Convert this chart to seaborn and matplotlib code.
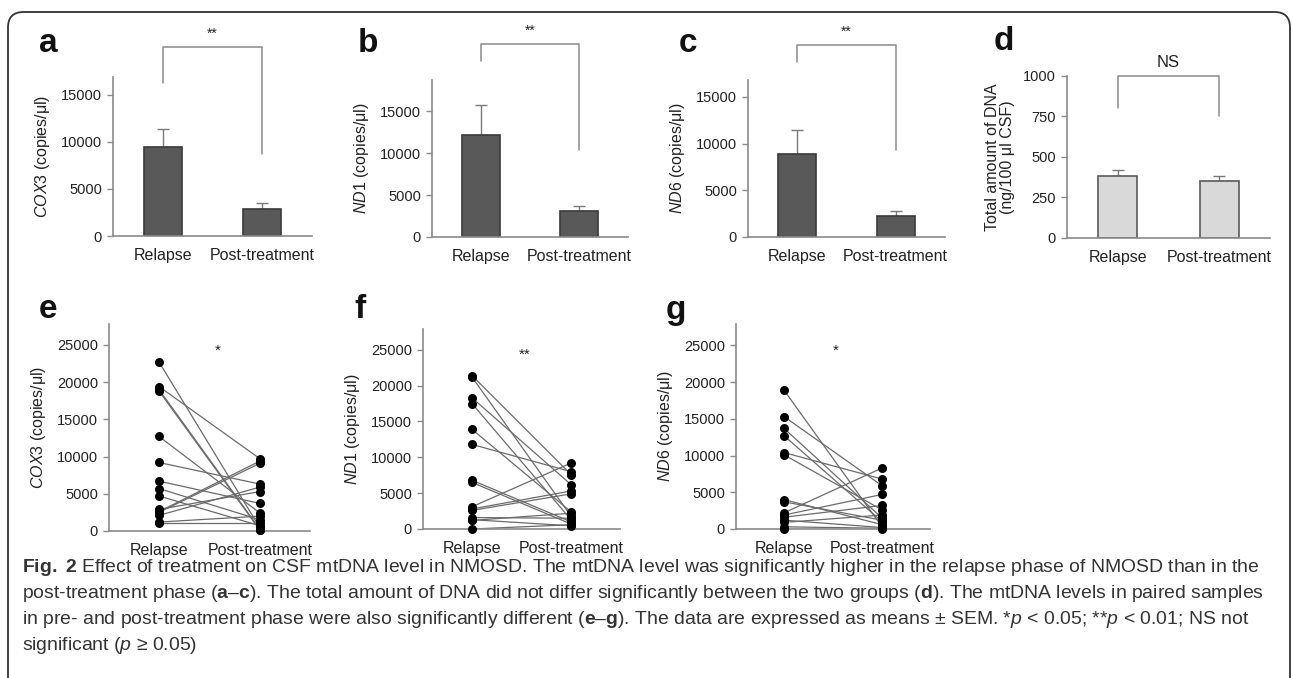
import matplotlib
matplotlib.use("Agg")
import numpy as np
import pandas as pd
import matplotlib.pyplot as plt
import seaborn as sns
from matplotlib import font_manager
from matplotlib.patches import FancyBboxPatch

# ---- data ----
groups = ["Relapse", "Post-treatment"]

cox3_mean = [9500, 2900]
cox3_sem = [1900, 600]
nd1_mean = [12200, 3100]
nd1_sem = [3500, 600]
nd6_mean = [8900, 2200]
nd6_sem = [2600, 600]
dna_mean = [380, 350]
dna_sem = [40, 30]

cox3_rel = [22700, 19400, 19000, 18800, 12700, 9200, 6700, 5700, 4700, 2900, 2600, 2500, 2100, 1200, 1100]
cox3_post = [400, 9700, 200, 100, 2400, 6300, 3700, 1500, 700, 5300, 9400, 9100, 5900, 2000, 1100]
nd1_rel = [21400, 21200, 18300, 17500, 13900, 11800, 6800, 6500, 3100, 2800, 2600, 1600, 1300, 1200, 0]
nd1_post = [7600, 1800, 6200, 1300, 2400, 8000, 1000, 700, 9200, 5300, 4900, 1500, 450, 2200, 600]
nd6_rel = [18900, 15300, 13700, 12700, 10400, 10100, 4000, 3700, 2200, 1900, 1600, 1200, 900, 300, 0]
nd6_post = [300, 5900, 1500, 1000, 6800, 2600, 600, 1200, 8300, 4700, 3200, 200, 1900, 100, 0]

W, H = 1293, 678

sns.set_style("white")
plt.rcParams["font.family"] = ["Liberation Sans", "DejaVu Sans"]
plt.rcParams["mathtext.fontset"] = "custom"
plt.rcParams["mathtext.rm"] = "Liberation Sans"
plt.rcParams["mathtext.it"] = "Liberation Sans:italic"
plt.rcParams["mathtext.bf"] = "Liberation Sans:bold"

# caption font: a narrow face if one is installed
installed = {f.name for f in font_manager.fontManager.ttflist}
cap_family = "Liberation Sans Narrow" if "Liberation Sans Narrow" in installed else "Liberation Sans"

fig = plt.figure(figsize=(W / 100, H / 100), dpi=100)
fig.patch.set_facecolor("white")

AX_COL = "#8a8a8a"
TXT = "#222222"


def px_axes(left, top, right, bottom, c0, c1, ymax):
    ax = fig.add_axes([left / W, 1 - bottom / H, (right - left) / W, (bottom - top) / H])
    unit = c1 - c0
    ax.set_xlim(-(c0 - left) / unit, 1 + (right - c1) / unit)
    ax.set_ylim(0, ymax)
    sns.despine(ax=ax)
    for s in ["left", "bottom"]:
        ax.spines[s].set_color(AX_COL)
        ax.spines[s].set_linewidth(1.2)
    ax.tick_params(axis="y", left=True, length=4, width=1, color=AX_COL, labelsize=10.5,
                   labelcolor=TXT, pad=4)
    ax.tick_params(axis="x", bottom=False, labelsize=11.5, labelcolor=TXT, pad=5)
    ax.set_facecolor("none")
    return ax


def bracket(ax, y, yl, yr, label, ly, fs=10):
    ax.plot([0, 0, 1, 1], [yl, y, y, yr], color=AX_COL, lw=1.1, clip_on=False)
    ax.text(0.5, ly, label, ha="center", va="bottom", fontsize=fs, color=TXT, clip_on=False)


def bar_panel(ax, means, sems, color, edge, width_px, unit_px):
    df = pd.DataFrame({"group": groups, "value": means})
    sns.barplot(data=df, x="group", y="value", ax=ax, color=color, edgecolor=edge,
                linewidth=1.2, width=width_px / unit_px, errorbar=None, saturation=1,
                zorder=2)
    ax.errorbar([0, 1], means, yerr=[[0, 0], sems], fmt="none", ecolor="#7a7a7a",
                elinewidth=1, capsize=4, capthick=1, zorder=1)
    ax.set_xlabel("")
    ax.set_ylabel("")


def pair_panel(ax, rel, post):
    n = len(rel)
    df = pd.DataFrame({
        "pair": list(range(n)) * 2,
        "pos": [0] * n + [1] * n,
        "value": rel + post,
    })
    sns.lineplot(data=df, x="pos", y="value", units="pair", estimator=None, ax=ax,
                 color="#6b6b6b", lw=0.9, legend=False)
    sns.scatterplot(data=df, x="pos", y="value", ax=ax, color="black", s=42,
                    edgecolor="black", linewidth=0, zorder=3, legend=False, clip_on=False)
    ax.set_xticks([0, 1])
    ax.set_xticklabels(groups)
    ax.set_xlabel("")
    ax.set_ylabel("")
    ax.set_yticks([0, 5000, 10000, 15000, 20000, 25000])


# ---- top row ----
ax_a = px_axes(113, 77, 312, 236, 161, 258, 16900)
bar_panel(ax_a, cox3_mean, cox3_sem, "#595959", "#3a3a3a", 37, 97)
ax_a.set_yticks([0, 5000, 10000, 15000])
ax_a.set_ylabel(r"$\it{COX3}$ (copies/μl)", fontsize=11.5, color=TXT, labelpad=6)
bracket(ax_a, 20100, 16300, 8700, "**", 20700)

ax_b = px_axes(432, 80, 628, 237, 481, 577, 18700)
bar_panel(ax_b, nd1_mean, nd1_sem, "#595959", "#3a3a3a", 37, 96)
ax_b.set_yticks([0, 5000, 10000, 15000])
ax_b.set_ylabel(r"$\it{ND1}$ (copies/μl)", fontsize=11.5, color=TXT, labelpad=6)
bracket(ax_b, 23000, 21000, 10400, "**", 23700)

ax_c = px_axes(748, 80, 945, 237, 797, 893, 16800)
bar_panel(ax_c, nd6_mean, nd6_sem, "#595959", "#3a3a3a", 37, 96)
ax_c.set_yticks([0, 5000, 10000, 15000])
ax_c.set_ylabel(r"$\it{ND6}$ (copies/μl)", fontsize=11.5, color=TXT, labelpad=6)
bracket(ax_c, 20500, 18700, 9300, "**", 21200)

ax_d = px_axes(1067, 76, 1270, 238, 1116, 1214, 1000)
bar_panel(ax_d, dna_mean, dna_sem, "#d9d9d9", "#5a5a5a", 38, 98)
ax_d.set_yticks([0, 250, 500, 750, 1000])
ax_d.set_ylabel("Total amount of DNA\n(ng/100 μl CSF)", fontsize=11.5, color=TXT,
                labelpad=6, linespacing=1.0)
bracket(ax_d, 1000, 800, 750, "NS", 1035, fs=12)

# ---- bottom row ----
ax_e = px_axes(109, 324, 310, 531, 159, 260, 27800)
pair_panel(ax_e, cox3_rel, cox3_post)
ax_e.set_ylabel(r"$\it{COX3}$ (copies/μl)", fontsize=11.5, color=TXT, labelpad=6)
ax_e.text(0.58, 23300, "*", ha="center", va="bottom", fontsize=11, color=TXT)

ax_f = px_axes(423, 329, 620, 529, 472, 571, 27900)
pair_panel(ax_f, nd1_rel, nd1_post)
ax_f.set_ylabel(r"$\it{ND1}$ (copies/μl)", fontsize=11.5, color=TXT, labelpad=6)
ax_f.text(0.53, 23300, "**", ha="center", va="bottom", fontsize=11, color=TXT)

ax_g = px_axes(736, 324, 930, 529, 784, 882, 27900)
pair_panel(ax_g, nd6_rel, nd6_post)
ax_g.set_ylabel(r"$\it{ND6}$ (copies/μl)", fontsize=11.5, color=TXT, labelpad=6)
ax_g.text(0.53, 23300, "*", ha="center", va="bottom", fontsize=11, color=TXT)

# ---- panel letters ----
letters = [("a", 48, 43), ("b", 368, 43), ("c", 688, 43), ("d", 1004, 41),
           ("e", 48, 310), ("f", 360, 310), ("g", 676, 310)]
for lab, x, y in letters:
    fig.text(x / W, 1 - y / H, lab, fontsize=24, fontweight="bold", ha="center",
             va="center", color="#111111")

# ---- caption ----
plt.rcParams["mathtext.rm"] = cap_family
plt.rcParams["mathtext.it"] = cap_family + ":italic"
plt.rcParams["mathtext.bf"] = cap_family + ":bold"
cap_lines = [
    r"$\mathbf{Fig.\ 2}$ Effect of treatment on CSF mtDNA level in NMOSD. The mtDNA level was significantly higher in the relapse phase of NMOSD than in the",
    r"post-treatment phase ($\mathbf{a}$–$\mathbf{c}$). The total amount of DNA did not differ significantly between the two groups ($\mathbf{d}$). The mtDNA levels in paired samples",
    r"in pre- and post-treatment phase were also significantly different ($\mathbf{e}$–$\mathbf{g}$). The data are expressed as means ± SEM. *$\it{p}$ < 0.05; **$\it{p}$ < 0.01; NS not",
    r"significant ($\it{p}$ ≥ 0.05)",
]
cap_y = [568, 594, 620, 645]
cap_texts = []
for line, y in zip(cap_lines, cap_y):
    cap_texts.append(fig.text(22 / W, 1 - y / H, line, fontsize=12.5, ha="left",
                              va="center", color="#333333", family=cap_family))

# fit the first caption line to the reference width
fig.canvas.draw()
renderer = fig.canvas.get_renderer()
w0 = cap_texts[0].get_window_extent(renderer).width
fs = 12.5 * 1240 / w0
for t in cap_texts:
    t.set_fontsize(fs)

# ---- rounded frame ----
frame = FancyBboxPatch((8 / W, -20 / H), (1290 - 8) / W, (666 + 20) / H,
                       boxstyle="round,pad=0,rounding_size=0.012",
                       transform=fig.transFigure, fill=False, edgecolor="#333333",
                       linewidth=1.3, mutation_aspect=W / H)
fig.patches.append(frame)

fig.savefig("out.png", dpi=100)
